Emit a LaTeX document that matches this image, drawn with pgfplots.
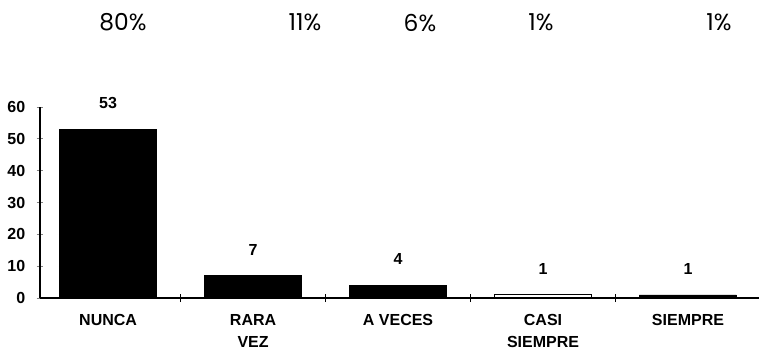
\documentclass[border=0pt]{standalone}
\usepackage{pgfplots}
\pgfplotsset{compat=1.18}
\usepackage{fontspec}
\setmainfont{Liberation Sans}
\newfontfamily\pctfont{Poppins}
\begin{document}
\begin{tikzpicture}
\begin{axis}[
  at={(0,0)}, anchor=south west,
  scale only axis,
  width=539.25pt, height=143.25pt,
  xmin=-0.47, xmax=4.49,
  ymin=0, ymax=60,
  axis lines*=left,
  axis line style={line width=0.8pt},
  ybar, bar width=72.75pt, bar shift=0pt,
  xtick={0,1,2,3,4},
  xticklabels={NUNCA, {RARA\\VEZ}, A VECES, {CASI\\SIEMPRE}, SIEMPRE},
  minor xtick={0.5,1.5,2.5,3.5},
  x tick style={draw=none},
  minor x tick style={draw=black, line width=0.7pt},
  minor tick length=6pt,
  ytick={0,10,...,60},
  y tick style={line width=0.7pt},
  major tick length=5pt,
  tick align=center,
  xticklabel style={font=\fontsize{12}{17}\selectfont\bfseries, align=center, anchor=north, yshift=-6pt},
  yticklabel style={font=\fontsize{12}{14}\selectfont\bfseries, xshift=-5pt},
  /pgf/number format/assume math mode=true,
  nodes near coords,
  every node near coord/.append style={font=\fontsize{12}{14}\selectfont\bfseries, anchor=center, yshift=19.5pt},
  clip=false,
]
\addplot[fill=black, draw=black] coordinates {(0,53) (1,7) (2,4) (4,1)};
\addplot[fill=white, draw=black, line width=0.8pt] coordinates {(3,1)};
\end{axis}
\begin{scope}[every node/.style={font=\pctfont\fontsize{17.5}{20}\selectfont, anchor=center}]
\node at (62.25pt,206.6pt) {80\%};
\node at (198.75pt,206.6pt) {11\%};
\node at (285pt,206.6pt) {6\%};
\node at (375.75pt,206.6pt) {1\%};
\node at (509.25pt,206.6pt) {1\%};
\end{scope}
\pgfresetboundingbox
\path[use as bounding box] (-30pt,-39.75pt) rectangle (539.25pt,223.5pt);
\end{tikzpicture}
\end{document}
